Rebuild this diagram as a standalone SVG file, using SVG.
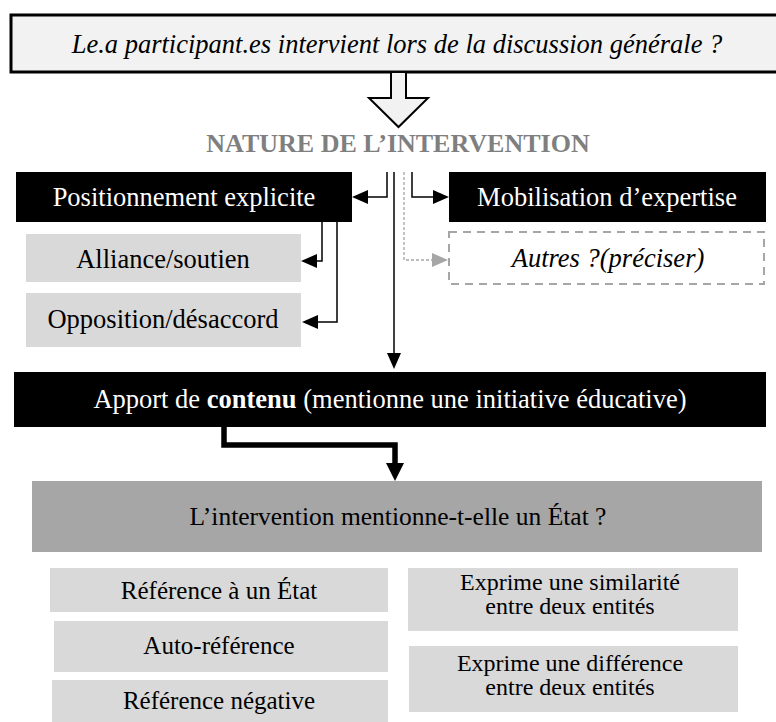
<svg xmlns="http://www.w3.org/2000/svg" width="776" height="722" viewBox="0 0 776 722">
<defs>
<style>
text{font-family:'Liberation Serif','Tinos','DejaVu Serif','Noto Serif',serif}
.t{text-anchor:middle}
.w{fill:#fff}
.k{fill:#000}
.blk{fill:#000}
.lg{fill:#d9d9d9}
.ln{fill:none;stroke:#000;stroke-width:1.5}
</style>
<marker id="ah" markerUnits="userSpaceOnUse" viewBox="0 0 16 14" refX="0" refY="7" markerWidth="16" markerHeight="14" orient="auto"><path d="M0,0 L16,7 L0,14 z" fill="#000"/></marker>
<marker id="ahg" markerUnits="userSpaceOnUse" viewBox="0 0 16 14" refX="0" refY="7" markerWidth="16" markerHeight="14" orient="auto"><path d="M0,0 L16,7 L0,14 z" fill="#a6a6a6"/></marker>
<marker id="ahb" markerUnits="userSpaceOnUse" viewBox="0 0 18 18" refX="0" refY="9" markerWidth="18" markerHeight="18" orient="auto"><path d="M0,0 L18,9 L0,18 z" fill="#000"/></marker>
</defs>
<rect width="776" height="722" fill="#fff"/>

<g id="question">
<rect x="11" y="15" width="790" height="57" fill="#f2f2f2" stroke="#000" stroke-width="3"/>
<text class="t k" x="397" y="53" font-size="26.5" font-style="italic">Le.a participant.es intervient lors de la discussion générale ?</text>
</g>
<g id="hollow-arrow">
<polygon points="391,72 391,98 369,98 398.5,127 428,98 406,98 406,72" fill="#f2f2f2" stroke="#000" stroke-width="2"/>
</g>
<g id="nature">
<text class="t" x="398" y="152" font-size="26" font-weight="bold" fill="#7f7f7f">NATURE DE L’INTERVENTION</text>
</g>

<g id="connectors">
<path class="ln" d="M387,172 V197 H368" marker-end="url(#ah)"/>
<path class="ln" d="M412,172 V197 H433" marker-end="url(#ah)"/>
<path d="M404,172 V260 H432" fill="none" stroke="#a6a6a6" stroke-width="1.3" stroke-dasharray="3,2" marker-end="url(#ahg)"/>
<path class="ln" d="M394,172 V353" marker-end="url(#ah)"/>
<path class="ln" d="M322,222 V261 H317" marker-end="url(#ah)"/>
<path class="ln" d="M337,222 V322 H318" marker-end="url(#ah)"/>
<path d="M224,427 V445 H395 V463" fill="none" stroke="#000" stroke-width="5.5" marker-end="url(#ahb)"/>
</g>

<g id="positionnement">
<rect x="16" y="172" width="336" height="50" class="blk"/>
<text class="t w" x="184" y="206" font-size="26.5">Positionnement explicite</text>
</g>
<g id="mobilisation">
<rect x="449" y="172" width="317" height="50" class="blk"/>
<text class="t w" x="607" y="206" font-size="26.5">Mobilisation d’expertise</text>
</g>
<g id="alliance">
<rect x="26" y="234" width="275" height="48" class="lg"/>
<text class="t k" x="163" y="268" font-size="26.5">Alliance/soutien</text>
</g>
<g id="opposition">
<rect x="26" y="293" width="275" height="54" class="lg"/>
<text class="t k" x="163" y="328" font-size="26.5">Opposition/désaccord</text>
</g>
<g id="autres">
<rect x="449" y="232" width="315" height="52" fill="#fff" stroke="#a6a6a6" stroke-width="2" stroke-dasharray="8,6"/>
<text class="t k" x="608" y="267" font-size="26.5" font-style="italic">Autres ?(préciser)</text>
</g>
<g id="apport">
<rect x="14" y="372" width="752" height="55" class="blk"/>
<text class="t w" x="390" y="408" font-size="26.5">Apport de <tspan font-weight="bold">contenu</tspan> (mentionne une initiative éducative)</text>
</g>
<g id="etat-question">
<rect x="32" y="481" width="730" height="71" fill="#a6a6a6"/>
<text class="t k" x="398" y="525" font-size="25.5">L’intervention mentionne-t-elle un État ?</text>
</g>
<g id="ref-etat">
<rect x="50" y="568" width="338" height="44" class="lg"/>
<text class="t k" x="219" y="599" font-size="25">Référence à un État</text>
</g>
<g id="auto-ref">
<rect x="54" y="621" width="334" height="51" class="lg"/>
<text class="t k" x="219" y="654" font-size="25">Auto-référence</text>
</g>
<g id="ref-neg">
<rect x="52" y="680" width="336" height="42" class="lg"/>
<text class="t k" x="219" y="709" font-size="25">Référence négative</text>
</g>
<g id="similarite">
<rect x="408" y="568" width="330" height="63" class="lg"/>
<text class="t k" x="570" y="590" font-size="24">Exprime une similarité</text>
<text class="t k" x="570" y="614" font-size="24">entre deux entités</text>
</g>
<g id="difference">
<rect x="409" y="646" width="329" height="66" class="lg"/>
<text class="t k" x="570" y="671" font-size="24">Exprime une différence</text>
<text class="t k" x="570" y="695" font-size="24">entre deux entités</text>
</g>
</svg>
